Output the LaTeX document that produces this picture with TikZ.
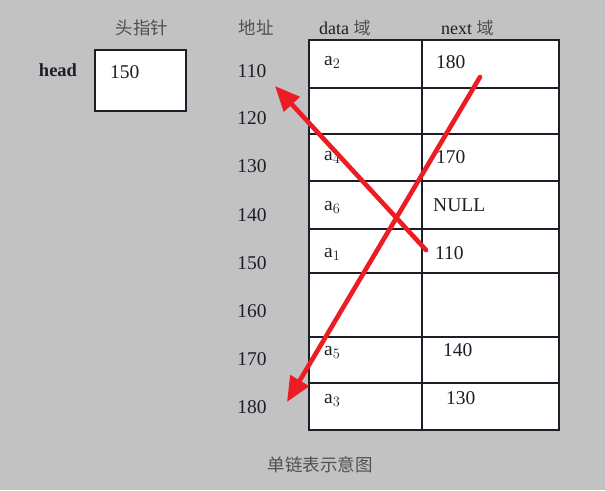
\documentclass[tikz,border=0pt]{standalone}
\usepackage{fontspec}
\setmainfont{Liberation Serif}
\newfontfamily\cjk{Noto Sans CJK SC}
\usetikzlibrary{arrows.meta}
\definecolor{bg}{HTML}{C2C2C2}
\definecolor{redline}{HTML}{EC1C24}
\definecolor{ink}{HTML}{1E1E28}
\definecolor{cjkgray}{HTML}{505050}
\begin{document}
\begin{tikzpicture}[x=1pt,y=-1pt,
  txt/.style={inner sep=0pt, font=\fontsize{19.5}{22}\selectfont, text=ink},
  cjktxt/.style={inner sep=0pt, font=\cjk\fontsize{17.5}{20}\selectfont, text=cjkgray},
  cellbox/.style={draw=ink, line width=1.4pt, fill=white},
  ptr/.style={draw=redline, line width=4.6pt, -{Triangle[length=25pt,width=21pt]}}]
\useasboundingbox (0,0) rectangle (605,490);
\fill[bg] (0,0) rectangle (605,490);
% headers
\node[cjktxt] (hh) at (142,28) {头指针};
\node[cjktxt] (ha) at (256,28) {地址};
\node[txt, anchor=west, font=\fontsize{18}{20}\selectfont] (hd) at (319,28) {data {\cjk\fontsize{17}{20}\selectfont\color{cjkgray}域}};
\node[txt, anchor=west, font=\fontsize{18}{20}\selectfont] (hn) at (441,28) {next {\cjk\fontsize{17}{20}\selectfont\color{cjkgray}域}};
% head pointer
\node[txt, font=\bfseries\fontsize{18.5}{20}\selectfont] (head) at (58,70) {head};
\draw[cellbox] (95,50) rectangle (186,111);
\node[txt, anchor=west] (hv) at (110,72) {150};
% addresses
\node[txt] (ad1) at (252,71) {110};
\node[txt] (ad2) at (252,118) {120};
\node[txt] (ad3) at (252,166) {130};
\node[txt] (ad4) at (252,215) {140};
\node[txt] (ad5) at (252,263) {150};
\node[txt] (ad6) at (252,311) {160};
\node[txt] (ad7) at (252,359) {170};
\node[txt] (ad8) at (252,407) {180};
% table
\fill[white] (309,40) rectangle (559,430);
\foreach \ya/\yb [count=\i] in {40/88,88/134,134/181,181/229,229/273,273/337,337/383,383/430}{
  \draw[draw=ink, line width=1.4pt] (309,\ya) rectangle (422,\yb);
  \draw[draw=ink, line width=1.4pt] (422,\ya) rectangle (559,\yb);
}
% data cells
\node[txt, anchor=west] (d1) at (324,62) {a$_2$};
\node[txt, anchor=west] (d3) at (324,157) {a$_4$};
\node[txt, anchor=west] (d4) at (324,207) {a$_6$};
\node[txt, anchor=west] (d5) at (324,254) {a$_1$};
\node[txt, anchor=west] (d7) at (324,352) {a$_5$};
\node[txt, anchor=west] (d8) at (324,400) {a$_3$};
% next cells
\node[txt, anchor=west] (n1) at (436,62) {180};
\node[txt, anchor=west] (n3) at (436,157) {170};
\node[txt, anchor=west] (n4) at (433,205) {NULL};
\node[txt, anchor=west] (n5) at (435,253) {110};
\node[txt, anchor=west] (n7) at (443,350) {140};
\node[txt, anchor=west] (n8) at (446,398) {130};
% caption
\node[cjktxt] (cap) at (320,465) {单链表示意图};
% arrows
\coordinate (s1) at (426,250);
\coordinate (t1) at (275,86);
\coordinate (s2) at (480,77);
\coordinate (t2) at (287,402);
\draw[ptr, line cap=round] (s1) -- (t1);
\draw[ptr, line cap=round] (s2) -- (t2);
\end{tikzpicture}
\end{document}
